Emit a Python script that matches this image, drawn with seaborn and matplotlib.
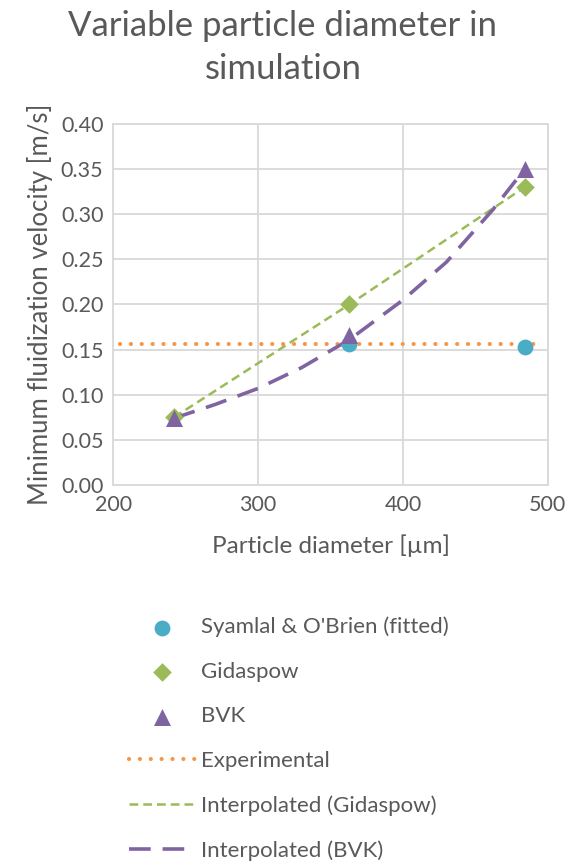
import numpy as np
import pandas as pd
import matplotlib
matplotlib.use('Agg')
import matplotlib.pyplot as plt
import seaborn as sns

# Data
diameter = [242, 363, 484]
syamlal_d = [363, 484]
syamlal_umf = [0.156, 0.153]
gidaspow_umf = [0.075, 0.200, 0.330]
bvk_umf = [0.074, 0.166, 0.350]
experimental_umf = 0.156
exp_range = [205, 497]

# smoothed BVK trend line
bvk_curve_d = [242, 270, 300, 330, 363, 400, 430, 462, 484]
bvk_curve_umf = [0.074, 0.089, 0.107, 0.130, 0.161, 0.205, 0.247, 0.305, 0.350]

sns.set_theme(style='white')
plt.rcParams['font.family'] = ['Lato', 'DejaVu Sans']

text_gray = '#595959'
c_sy = '#4BACC6'
c_gi = '#9BBB59'
c_bvk = '#8064A2'
c_exp = '#F79646'

fig = plt.figure(figsize=(5.66, 8.64), dpi=100)
ax = fig.add_axes([0.2, 0.4387, 0.768, 0.4178])

# Experimental line
ax.plot(exp_range, [experimental_umf, experimental_umf], color=c_exp, lw=3,
        linestyle=(0, (0.01, 2.6)), dash_capstyle='round', label='Experimental', zorder=2)

# Interpolated lines
sns.lineplot(x=diameter, y=gidaspow_umf, ax=ax, color=c_gi, lw=1.8,
             linestyle=(0, (3.5, 2)), label='Interpolated (Gidaspow)', zorder=3)
sns.lineplot(x=bvk_curve_d, y=bvk_curve_umf, ax=ax, color=c_bvk, lw=2.6,
             linestyle=(0, (6, 3.3)), label='Interpolated (BVK)', zorder=3)

# Points
ax.scatter(syamlal_d, syamlal_umf, s=130, marker='o', color=c_sy, linewidths=0,
           label="Syamlal & O'Brien (fitted)", zorder=5)
ax.scatter(diameter, gidaspow_umf, s=90, marker='D', color=c_gi, linewidths=0,
           label='Gidaspow', zorder=5)
ax.scatter(diameter, bvk_umf, s=150, marker='^', color=c_bvk, linewidths=0,
           label='BVK', zorder=6)

ax.set_xlim(200, 500)
ax.set_ylim(0, 0.40)
ax.set_xticks([200, 300, 400, 500])
ax.set_yticks(np.arange(0, 0.41, 0.05))
ax.set_yticklabels([f'{v:.2f}' for v in np.arange(0, 0.41, 0.05)])
ax.grid(True, color='#D9D9D9', lw=1.3)
for s in ax.spines.values():
    s.set_color('#D9D9D9')
    s.set_linewidth(1.3)
ax.tick_params(axis='both', labelsize=15.5, colors=text_gray, length=0, pad=7)

ax.set_xlabel('Particle diameter [µm]', fontsize=17.5, color=text_gray, labelpad=14)
ax.set_ylabel('Minimum fluidization velocity [m/s]', fontsize=18.5, color=text_gray, labelpad=6)
fig.text(0.5, 0.988, 'Variable particle diameter in\nsimulation', fontsize=25,
         color=text_gray, ha='center', va='top', linespacing=1.42)

handles, labels = ax.get_legend_handles_labels()
order = ["Syamlal & O'Brien (fitted)", 'Gidaspow', 'BVK', 'Experimental',
         'Interpolated (Gidaspow)', 'Interpolated (BVK)']
hmap = dict(zip(labels, handles))
ax.legend([hmap[k] for k in order], order, loc='upper left',
          bbox_to_anchor=(0.228, 0.286), bbox_transform=fig.transFigure,
          frameon=False, fontsize=16, labelcolor=text_gray, handlelength=3.0,
          handletextpad=0.25, labelspacing=1.1, borderaxespad=0, borderpad=0)

fig.savefig('out.png', dpi=100)
